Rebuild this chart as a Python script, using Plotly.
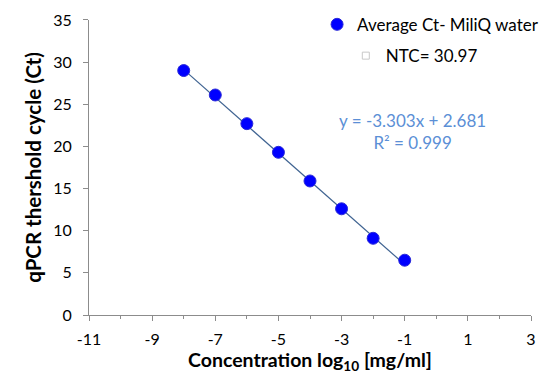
import plotly.graph_objects as go

# Standard curve: log10 concentration vs. average Ct
log_conc = [-8, -7, -6, -5, -4, -3, -2, -1]
avg_ct = [29.0, 26.1, 22.7, 19.3, 15.9, 12.6, 9.1, 6.5]

# Linear fit coefficients
slope = -3.303
intercept = 2.681
r_squared = 0.999
ntc_ct = 30.97

x_ticks = [-11, -9, -7, -5, -3, -1, 1, 3]
y_ticks = [0, 5, 10, 15, 20, 25, 30, 35]

font_family = "Lato, 'Open Sans', sans-serif"

fit_x = [min(log_conc), max(log_conc)]
fit_y = [slope * x + intercept for x in fit_x]

fig = go.Figure()

fig.add_trace(go.Scatter(
    x=fit_x, y=fit_y, mode="lines",
    line=dict(color="#3f6391", width=1.2),
    showlegend=False, hoverinfo="skip",
))

fig.add_trace(go.Scatter(
    x=log_conc, y=avg_ct, mode="markers",
    name="Average Ct- MiliQ water",
    marker=dict(color="#0000ff", size=12, line=dict(color="#2a2ad8", width=1)),
    legend="legend",
))

fig.add_trace(go.Scatter(
    x=[None], y=[None], mode="markers",
    name=f"NTC= {ntc_ct}",
    marker=dict(color="#ffffff", size=7, symbol="square",
                line=dict(color="#c8c8c8", width=1)),
    legend="legend2",
))

fig.add_annotation(
    x=0.733, y=0.599, xref="paper", yref="paper",
    xanchor="center", yanchor="middle",
    text=f"y = {slope}x + {intercept}<br>R² = {r_squared}",
    showarrow=False, align="center",
    font=dict(family=font_family, size=17, color="#5b8fd6"),
)

axis_common = dict(
    showgrid=False, zeroline=False, showline=True,
    linecolor="#8c8c8c", linewidth=1,
    ticks="outside", tickcolor="#8c8c8c", ticklen=5,
    tickfont=dict(family=font_family, size=16, color="#000000"),
)

fig.update_xaxes(
    range=[-11, 3], tickvals=x_ticks,
    ticktext=[str(v) for v in x_ticks],
    ticklabelstandoff=5,
    minor=dict(ticks="outside", tickvals=[-10, -8, -6, -4, -2, 0, 2],
               ticklen=3, tickcolor="#8c8c8c"),
    title=dict(text="<b>Concentration log<sub>10</sub> [mg/ml]</b>",
               font=dict(family=font_family, size=19.5, color="#000000"),
               standoff=5),
    **axis_common,
)
fig.update_yaxes(
    range=[0, 35], tickvals=y_ticks, domain=[0, 0.961],
    ticktext=[str(v) for v in y_ticks],
    ticklabelstandoff=8,
    title=dict(text="<b>qPCR thershold cycle (Ct)</b>",
               font=dict(family=font_family, size=20.5, color="#000000"),
               standoff=6),
    **axis_common,
)

fig.update_layout(
    width=559, height=382,
    margin=dict(l=89, r=28, t=8, b=67, autoexpand=False),
    plot_bgcolor="#ffffff", paper_bgcolor="#ffffff",
    font=dict(family=font_family, size=16, color="#000000"),
    legend=dict(x=0.516, y=1.004, xanchor="left", yanchor="top",
                bgcolor="rgba(0,0,0,0)", font=dict(size=17),
                itemwidth=30, tracegroupgap=0),
    legend2=dict(x=0.581, y=0.902, xanchor="left", yanchor="top",
                 bgcolor="rgba(0,0,0,0)", font=dict(size=17),
                 itemwidth=30),
)

fig.write_html("out.html")
